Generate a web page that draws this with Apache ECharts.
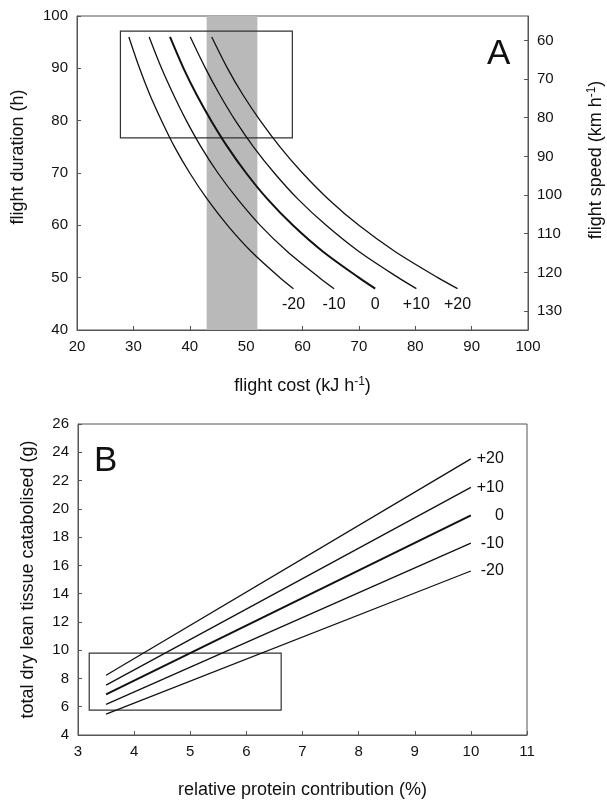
<!DOCTYPE html>
<html>
<head>
<meta charset="utf-8">
<script src="https://cdn.jsdelivr.net/npm/echarts@6/dist/echarts.min.js"></script>
<style>
html, body { margin: 0; background: #fff; }
#chart { width: 607px; height: 801px; }
</style>
</head>
<body>
<div id="chart"></div>
<script>
// panel A: flight cost read at each duration, one list per curve
var durations = [96, 90, 85, 80, 75, 70, 65, 60, 55, 50, 47.9];
var curveNames = ['-20', '-10', '0', '+10', '+20'];
var costM20 = [29.2, 31.1, 32.9, 35.0, 37.3, 40.0, 43.1, 46.7, 50.9, 56.0, 58.4];
var costM10 = [32.8, 35.0, 37.1, 39.4, 42.0, 45.0, 48.5, 52.5, 57.3, 63.0, 65.6];
var cost0   = [36.5, 38.9, 41.2, 43.8, 46.7, 50.0, 53.8, 58.3, 63.6, 70.0, 72.9];
var costP10 = [40.1, 42.8, 45.3, 48.1, 51.3, 55.0, 59.2, 64.2, 70.0, 77.0, 80.2];
var costP20 = [43.9, 46.7, 49.4, 52.5, 56.0, 60.0, 64.6, 70.0, 76.4, 84.0, 87.5];
var speedTicks = [60, 70, 80, 90, 100, 110, 120, 130];
var bandA = [43, 52];
var boxA = [[27.7, 76.7], [58.2, 97.1]];

// panel B: straight lines, start and end
var protein = [3.5, 10];
var leanM20 = [5.48, 15.6];
var leanM10 = [6.17, 17.57];
var lean0   = [6.87, 19.53];
var leanP10 = [7.53, 21.52];
var leanP20 = [8.23, 23.53];
var boxB = [[3.2, 5.76], [6.62, 9.79]];

var costs = [costM20, costM10, cost0, costP10, costP20];
var leans = [leanM20, leanM10, lean0, leanP10, leanP20];

var myChart = echarts.init(document.getElementById('chart'));
var font = 'Liberation Sans, Arial, sans-serif';
var ink = '#111';
var frame = '#555';
var supRich = {
    sup: { fontSize: 12, fontFamily: font, color: ink, verticalAlign: 'top', padding: [0, 0, 9, 0] }
};

function axisBase(extra) {
    var a = {
        type: 'value',
        axisLine: { show: true, onZero: false, lineStyle: { color: frame, width: 1 } },
        axisTick: { show: true, inside: true, length: 4, lineStyle: { color: frame } },
        axisLabel: { color: ink, fontSize: 15, fontFamily: font, margin: 9 },
        splitLine: { show: false },
        nameLocation: 'middle',
        nameTextStyle: { color: ink, fontSize: 18, fontFamily: font, rich: supRich }
    };
    return Object.assign(a, extra);
}

var series = [];

// band and box of panel A
series.push({
    type: 'line', xAxisIndex: 0, yAxisIndex: 0, data: [], z: 1, silent: true,
    markArea: {
        silent: true,
        data: [
            [{ xAxis: bandA[0], itemStyle: { color: '#b9b9b9' } }, { xAxis: bandA[1] }],
            [{ coord: boxA[0], itemStyle: { color: 'rgba(0,0,0,0)', borderColor: '#333', borderWidth: 1.2 } },
             { coord: boxA[1] }]
        ]
    }
});

costs.forEach(function (c, i) {
    series.push({
        type: 'line', xAxisIndex: 0, yAxisIndex: 0, z: 3,
        name: 'A' + curveNames[i],
        data: c.map(function (v, j) { return [v, durations[j]]; }),
        smooth: 0.3, symbol: 'none',
        lineStyle: { color: '#111', width: curveNames[i] === '0' ? 2 : 1.3 }
    });
});

series.push({
    type: 'scatter', xAxisIndex: 0, yAxisIndex: 0, symbolSize: 0, z: 4,
    itemStyle: { opacity: 1 },
    data: costs.map(function (c, i) {
        return { name: curveNames[i], value: [c[c.length - 1], durations[durations.length - 1]] };
    }),
    label: { show: true, position: 'bottom', distance: 8, formatter: '{b}', color: ink, fontSize: 16, fontFamily: font, opacity: 1 }
});

// panel B
series.push({
    type: 'line', xAxisIndex: 1, yAxisIndex: 2, data: [], z: 1, silent: true,
    markArea: {
        silent: true,
        data: [[{ coord: boxB[0], itemStyle: { color: 'rgba(0,0,0,0)', borderColor: '#333', borderWidth: 1.2 } },
                { coord: boxB[1] }]]
    }
});

leans.forEach(function (l, i) {
    series.push({
        type: 'line', xAxisIndex: 1, yAxisIndex: 2, z: 3,
        name: 'B' + curveNames[i],
        data: l.map(function (v, j) { return [protein[j], v]; }),
        symbol: 'none',
        lineStyle: { color: '#111', width: curveNames[i] === '0' ? 2 : 1.3 }
    });
});

series.push({
    type: 'scatter', xAxisIndex: 1, yAxisIndex: 2, symbolSize: 0, z: 4,
    itemStyle: { opacity: 1 },
    data: leans.map(function (l, i) {
        return { name: curveNames[i], value: [protein[protein.length - 1], l[l.length - 1]] };
    }),
    label: { show: true, position: 'right', distance: 33, align: 'right', formatter: '{b}', color: ink, fontSize: 16, fontFamily: font, opacity: 1 }
});

var option = {
    backgroundColor: '#fff',
    animation: false,
    grid: [
        { left: 77, top: 16, width: 451, height: 314, show: true, borderColor: frame, borderWidth: 1,
          containLabel: false, outerBoundsMode: 'none' },
        { left: 78, top: 424, width: 449, height: 311, show: true, borderColor: frame, borderWidth: 1,
          containLabel: false, outerBoundsMode: 'none' }
    ],
    xAxis: [
        axisBase({ gridIndex: 0, min: 20, max: 100, interval: 10,
            name: 'flight cost (kJ h{sup|-1})', nameGap: 46 }),
        axisBase({ gridIndex: 1, min: 3, max: 11, interval: 1,
            name: 'relative protein contribution (%)', nameGap: 46 })
    ],
    yAxis: [
        axisBase({ gridIndex: 0, min: 40, max: 100, interval: 10,
            name: 'flight duration (h)', nameGap: 50,
            nameTextStyle: { color: ink, fontSize: 18, fontFamily: font, padding: [0, 0, 0, 32] } }),
        axisBase({ gridIndex: 0, position: 'right', inverse: true, min: 53.7, max: 134.9,
            axisTick: { show: true, inside: true, length: 4, lineStyle: { color: frame }, customValues: speedTicks },
            axisLabel: { color: ink, fontSize: 15, fontFamily: font, margin: 9, customValues: speedTicks },
            name: 'flight speed (km h{sup|-1})', nameGap: 58, nameRotate: 90,
            nameTextStyle: { color: ink, fontSize: 18, fontFamily: font, rich: supRich, padding: [0, 0, 0, 26] } }),
        axisBase({ gridIndex: 1, min: 4, max: 26, interval: 2,
            name: 'total dry lean tissue catabolised (g)', nameGap: 41 })
    ],
    graphic: [
        { type: 'text', left: 487, top: 37, style: { text: 'A', fontSize: 35, fontFamily: font, fill: '#111' } },
        { type: 'text', left: 94, top: 444, style: { text: 'B', fontSize: 35, fontFamily: font, fill: '#111' } }
    ],
    series: series
};

myChart.setOption(option);
window.addEventListener('resize', function () {
    myChart.resize();
});
</script>
</body>
</html>
